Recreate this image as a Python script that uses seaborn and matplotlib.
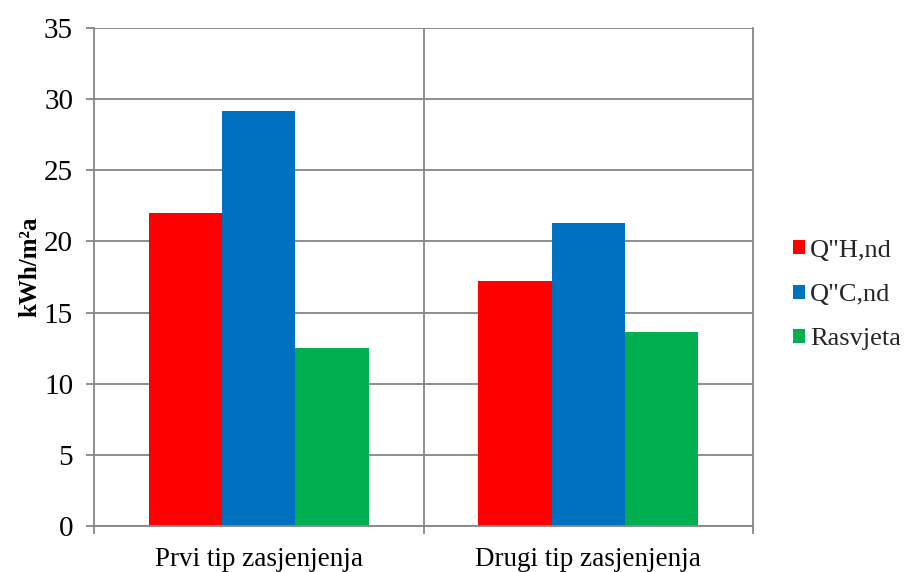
import matplotlib
matplotlib.use("Agg")
import matplotlib.pyplot as plt
import seaborn as sns
import pandas as pd
from matplotlib.patches import Patch

categories = ["Prvi tip zasjenjenja", "Drugi tip zasjenjenja"]
series = ["Q\"H,nd", "Q\"C,nd", "Rasvjeta"]
q_h = [22.0, 17.2]
q_c = [29.2, 21.3]
rasvjeta = [12.5, 13.65]
colors = ["#FF0000", "#0070C0", "#00B050"]

rows = []
for s, vals in zip(series, [q_h, q_c, rasvjeta]):
    for c, v in zip(categories, vals):
        rows.append({"cat": c, "series": s, "val": v})
df = pd.DataFrame(rows)

sns.set_theme(style="white")
plt.rcParams['font.family'] = ['Liberation Serif', 'DejaVu Serif']

fig = plt.figure(figsize=(9.09, 5.72), dpi=100)
ax = fig.add_axes([94/909, 1-526/572, (753-94)/909, (526-28)/572])

sns.barplot(data=df, x="cat", y="val", hue="series", palette=colors,
            order=categories, hue_order=series, width=0.667, saturation=1,
            ax=ax, legend=False, linewidth=0)

ax.set_ylim(0, 35)
ax.set_xlim(-0.5, 1.5)
ax.set_yticks(range(0, 36, 5))
ax.yaxis.grid(True, color="#868686", linewidth=1.3)
ax.set_axisbelow(True)
ax.axvline(0.5, color="#868686", linewidth=1.3, zorder=0)
for side in ["left", "right", "bottom", "top"]:
    ax.spines[side].set_color("#868686")
    ax.spines[side].set_linewidth(1.3)
ax.spines["top"].set_visible(False)

ax.tick_params(axis="y", which="major", left=True, length=6, color="#868686",
               width=1.3, labelsize=21, pad=9, labelcolor="black")
ax.set_xticks([0, 1])
ax.set_xticklabels(categories)
ax.set_xticks([-0.5, 0.5, 1.5], minor=True)
ax.tick_params(axis="x", which="major", bottom=False, labelsize=19.5, pad=9, labelcolor="black")
ax.tick_params(axis="x", which="minor", bottom=True, length=6, color="#868686", width=1.3)
ax.set_xlabel("")
ax.set_ylabel("kWh/m²a", fontsize=18, fontweight="bold", color="black")
ax.yaxis.set_label_coords(-0.08, 0.52)

handles = [Patch(facecolor=c, edgecolor="none") for c in colors]
fig.legend(handles, series, loc="center left", bbox_to_anchor=(793/909, 1-295/572),
           frameon=False, fontsize=19, handlelength=0.45, handleheight=0.45,
           handletextpad=0.2, labelspacing=0.85, borderaxespad=0, borderpad=0)

fig.savefig("out.png", dpi=100)
